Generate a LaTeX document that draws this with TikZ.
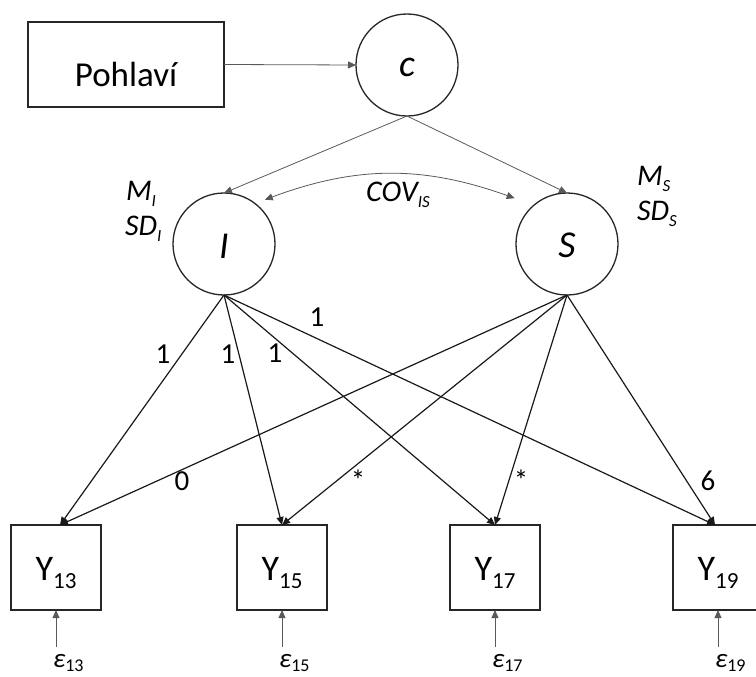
\documentclass[tikz,border=0pt]{standalone}
\usepackage{fontspec}
\setmainfont{Carlito}
\usetikzlibrary{arrows.meta}
% text lowered inside its node by a given amount (baseline below the node centre)
\newcommand\lowered[2]{\raisebox{-#1}[0pt][0pt]{#2}}
\newcommand\sbs[3]{\raisebox{-#1}{\fontsize{#2}{#2}\selectfont #3}}
\begin{document}
\begin{tikzpicture}[x=1pt,y=-1pt,
  every node/.style={inner sep=0pt, outer sep=0pt},
  obsbox/.style={draw=black!85, line width=1.3pt, minimum width=90pt, minimum height=85pt,
    font=\fontsize{36}{36}\selectfont},
  latent/.style={draw=black!85, circle, line width=1.3pt, minimum size=102pt,
    font=\fontsize{38}{38}\selectfont\itshape},
  loading/.style={-{Triangle[length=8pt,width=7pt]}, line width=1.2pt, black!90},
  thinarrow/.style={-{Triangle[length=8pt,width=7pt]}, line width=0.8pt, black!65},
  parlabel/.style={font=\fontsize{30}{30}\selectfont\itshape},
  coef/.style={font=\fontsize{29}{29}\selectfont, anchor=base},
  errlabel/.style={font=\fontsize{27}{27}\selectfont, anchor=base west}
]
\useasboundingbox (0,0) rectangle (756,677);

% covariate and latent factors
\node[obsbox, minimum width=196pt, font=\fontsize{35}{35}\selectfont] (pohl) at (126,64.5)
  {\lowered{22.5pt}{Pohlaví}};
\node[latent] (c) at (407,65) {\lowered{12pt}{c}};
\node[latent] (I) at (224,244) {\lowered{14pt}{I}};
\node[latent] (S) at (567,244) {\lowered{13pt}{S}};

% observed measurements
\node[obsbox] (Y13) at (56,567.5)  {\lowered{12.5pt}{Y\sbs{8pt}{23}{13}}};
\node[obsbox] (Y15) at (282,567.5) {\lowered{12.5pt}{Y\sbs{8pt}{23}{15}}};
\node[obsbox] (Y17) at (495,567.5) {\lowered{12.5pt}{Y\sbs{8pt}{23}{17}}};
\node[obsbox] (Y19) at (718,567.5) {\lowered{12.5pt}{Y\sbs{8pt}{23}{19}}};

% parameter labels
\node[parlabel, anchor=base west] (mi)  at (126,200) {M\sbs{6pt}{17}{I}};
\node[parlabel, anchor=base west] (sdi) at (125,235) {SD\sbs{6pt}{17}{I}};
\node[parlabel, anchor=base west] (ms)  at (637,185) {M\sbs{6pt}{17}{S}};
\node[parlabel, anchor=base west] (sds) at (637,220) {SD\sbs{6pt}{17}{S}};
\node[parlabel, anchor=base] (cov) at (398,201) {COV\sbs{6pt}{17}{IS}};

% structural paths
\draw[thinarrow] (pohl.east) -- (c.west);
\draw[thinarrow] (c.south) -- (I.north);
\draw[thinarrow] (c.south) -- (S.north);
\draw[thinarrow, {Triangle[length=8pt,width=7pt]}-{Triangle[length=8pt,width=7pt]}]
  ([shift={(6,-7)}]I.47) to[bend left=20] ([shift={(-15,-11)}]S.137);

% factor loadings
\draw[loading] (I.south) -- ([xshift=4pt]Y13.north);
\draw[loading] (I.south) -- (Y15.north);
\draw[loading] (I.south) -- (Y17.north);
\draw[loading] (I.south) -- ([xshift=-3pt]Y19.north);
\draw[loading] (S.south) -- ([xshift=4pt]Y13.north);
\draw[loading] (S.south) -- (Y15.north);
\draw[loading] (S.south) -- (Y17.north);
\draw[loading] (S.south) -- ([xshift=-3pt]Y19.north);

\node[coef] (li13) at (163,363) {1};
\node[coef] (li15) at (228,363) {1};
\node[coef] (li17) at (275,362) {1};
\node[coef] (li19) at (317,326) {1};
\node[coef] (ls13) at (182,490) {0};
\node[coef] (ls15) at (358,490) {*};
\node[coef] (ls17) at (521,490) {*};
\node[coef] (ls19) at (708,490) {6};

% residuals
\coordinate (e13) at (56,647);
\coordinate (e15) at (282,647);
\coordinate (e17) at (495,647);
\coordinate (e19) at (718,647);
\draw[thinarrow] (e13) -- (Y13.south);
\draw[thinarrow] (e15) -- (Y15.south);
\draw[thinarrow] (e17) -- (Y17.south);
\draw[thinarrow] (e19) -- (Y19.south);
\node[errlabel] (eps13) at (53,667)  {\itshape ε\sbs{4pt}{18}{\upshape 13}};
\node[errlabel] (eps15) at (279,667) {\itshape ε\sbs{4pt}{18}{\upshape 15}};
\node[errlabel] (eps17) at (492,667) {\itshape ε\sbs{4pt}{18}{\upshape 17}};
\node[errlabel] (eps19) at (715,667) {\itshape ε\sbs{4pt}{18}{\upshape 19}};
\end{tikzpicture}
\end{document}
